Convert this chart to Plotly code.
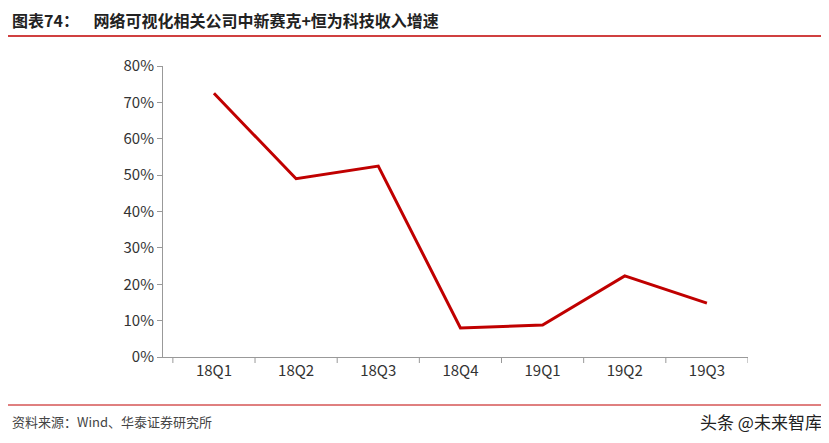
import plotly.graph_objects as go

categories = ["18Q1", "18Q2", "18Q3", "18Q4", "19Q1", "19Q2", "19Q3"]
growth = [0.725, 0.49, 0.525, 0.08, 0.088, 0.223, 0.148]
tick_vals = [0, 0.1, 0.2, 0.3, 0.4, 0.5, 0.6, 0.7, 0.8]
tick_text = ["0%", "10%", "20%", "30%", "40%", "50%", "60%", "70%", "80%"]

fig = go.Figure(go.Scatter(x=list(range(len(categories))), y=growth, mode="lines",
                           line=dict(color="#C00000", width=3)))
fig.update_layout(
    width=821, height=435, margin=dict(l=155, r=81, t=58, b=86),
    plot_bgcolor="white", paper_bgcolor="white", showlegend=False,
    font=dict(family="Noto Sans CJK SC", size=15, color="#333"),
    xaxis=dict(range=[-0.62, 6.5], tickvals=list(range(len(categories))), ticktext=categories,
               showline=True, linecolor="#999", ticks="", showgrid=False,
               tickfont=dict(size=15)),
    yaxis=dict(range=[0, 0.8], tickvals=tick_vals, ticktext=tick_text,
               showline=True, linecolor="#999", ticks="outside", ticklen=5,
               tickcolor="#999", showgrid=False, zeroline=False, tickfont=dict(size=15)),
    shapes=[
        dict(type="line", xref="paper", yref="paper", x0=-0.275, x1=1.13,
             y0=(357-36)/291, y1=(357-36)/291, line=dict(color="#C00000", width=1.5)),
        dict(type="line", xref="paper", yref="paper", x0=-0.275, x1=1.13,
             y0=-(405-357)/291, y1=-(405-357)/291, line=dict(color="#C00000", width=1)),
    ] + [
        dict(type="line", xref="x", yref="paper", x0=b, x1=b, y0=0, y1=-6/291,
             line=dict(color="#999", width=1)) for b in [-0.5 + i for i in range(8)]
    ],
    annotations=[
        dict(text="<b>图表74：    网络可视化相关公司中新赛克+恒为科技收入增速</b>", xref="paper", yref="paper",
             x=-0.262, y=(357-20)/291, xanchor="left", yanchor="middle", showarrow=False,
             font=dict(size=16, color="#222")),
        dict(text="资料来源：Wind、华泰证券研究所", xref="paper", yref="paper",
             x=-0.262, y=-(421-357)/291, xanchor="left", yanchor="middle", showarrow=False,
             font=dict(size=13, color="#444")),
        dict(text="头条 @未来智库", xref="paper", yref="paper",
             x=1.13, y=-(421-357)/291, xanchor="right", yanchor="middle", showarrow=False,
             font=dict(size=17, color="#222")),
    ],
)
fig.write_html("out.html")
